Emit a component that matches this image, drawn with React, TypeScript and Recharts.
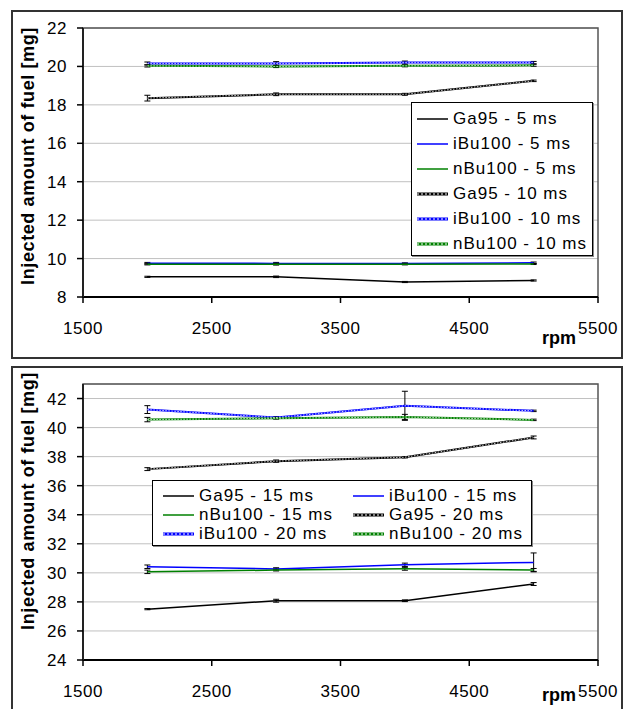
import { LineChart, Line, XAxis, YAxis, CartesianGrid, ErrorBar, Legend, ReferenceArea } from 'recharts'

const rpm = [2000, 3000, 4000, 5000]
const xTicks = [1500, 2500, 3500, 4500, 5500]

// upper panel: 5 ms and 10 ms injection
const ga95_5 = [9.05, 9.05, 8.78, 8.86]
const ibu_5 = [9.76, 9.75, 9.75, 9.78]
const nbu_5 = [9.7, 9.7, 9.7, 9.72]
const ga95_10 = [18.35, 18.55, 18.55, 19.25]
const ibu_10 = [20.15, 20.15, 20.2, 20.2]
const nbu_10 = [20.03, 20.0, 20.03, 20.06]

const ga95_5Err = [0.03, 0.04, 0.03, 0.03]
const ibu_5Err = [0.04, 0.05, 0.03, 0.04]
const nbu_5Err = [0.03, 0.04, 0.03, 0.03]
const ga95_10Err = [0.15, 0.07, 0.05, 0.04]
const ibu_10Err = [0.08, 0.1, 0.08, 0.06]
const nbu_10Err = [0.06, 0.06, 0.05, 0.05]

const topNames = ['Ga95 - 5 ms', 'iBu100 - 5 ms', 'nBu100 - 5 ms', 'Ga95 - 10 ms', 'iBu100 - 10 ms', 'nBu100 - 10 ms']
const topTicks = [8, 10, 12, 14, 16, 18, 20, 22]

// lower panel: 15 ms and 20 ms injection
const ga95_15 = [27.5, 28.08, 28.08, 29.23]
const ibu_15 = [30.42, 30.27, 30.55, 30.72]
const nbu_15 = [30.07, 30.19, 30.28, 30.2]
const ga95_20 = [37.14, 37.69, 37.96, 39.32]
const ibu_20 = [41.24, 40.69, 41.5, 41.15]
const nbu_20 = [40.55, 40.64, 40.73, 40.53]

const ga95_15Err = [0.04, 0.1, 0.06, 0.1]
const ibu_15Err = [0.12, 0.08, 0.12, 0.65]
const nbu_15Err = [0.12, 0.06, 0.1, 0.1]
const ga95_20Err = [0.1, 0.08, 0.05, 0.1]
const ibu_20Err = [0.27, 0.06, 1.0, 0.05]
const nbu_20Err = [0.15, 0.06, 0.18, 0.05]

const bottomNames = ['Ga95 - 15 ms', 'iBu100 - 15 ms', 'nBu100 - 15 ms', 'Ga95 - 20 ms', 'iBu100 - 20 ms', 'nBu100 - 20 ms']
const bottomTicks = [24, 26, 28, 30, 32, 34, 36, 38, 40, 42]

const colors = ['#000000', '#0000ff', '#008000']
const FONT = '"Liberation Sans", Arial, sans-serif'

function buildRows(values: number[][], errs: number[][]) {
  return rpm.map((r, i) => {
    const row: Record<string, number> = { rpm: r }
    values.forEach((v, s) => {
      row['s' + s] = v[i]
      row['e' + s] = errs[s][i]
    })
    return row
  })
}

const topData = buildRows(
  [ga95_5, ibu_5, nbu_5, ga95_10, ibu_10, nbu_10],
  [ga95_5Err, ibu_5Err, nbu_5Err, ga95_10Err, ibu_10Err, nbu_10Err],
)
const bottomData = buildRows(
  [ga95_15, ibu_15, nbu_15, ga95_20, ibu_20, nbu_20],
  [ga95_15Err, ibu_15Err, nbu_15Err, ga95_20Err, ibu_20Err, nbu_20Err],
)

function Swatch({ i }: { i: number }) {
  const c = colors[i % 3]
  const patterned = i >= 3
  return (
    <svg width={31} height={10} style={{ flex: 'none', marginRight: 5 }}>
      <line x1={0} y1={5} x2={31} y2={5} stroke={c} strokeWidth={patterned ? 3 : 1.5} />
      {patterned && <line x1={0} y1={5} x2={31} y2={5} stroke="#fff" strokeWidth={1} strokeDasharray="2 2" />}
    </svg>
  )
}

function LegendBox({ names, cols, colW, rowH, padTop, padLeft }: any) {
  return (
    <div
      style={{
        width: '100%', height: '100%', boxSizing: 'border-box', background: '#fff',
        border: '1px solid #000', boxShadow: '1px 1px 0 #888',
        paddingTop: padTop, paddingLeft: padLeft,
        display: 'grid', gridTemplateColumns: `repeat(${cols}, ${colW}px)`, gridAutoRows: rowH,
        fontFamily: FONT, fontSize: 17, letterSpacing: 1, color: '#000',
      }}
    >
      {names.map((n: string, i: number) => (
        <div key={n} style={{ display: 'flex', alignItems: 'center', whiteSpace: 'nowrap' }}>
          <Swatch i={i} />
          <span>{n}</span>
        </div>
      ))}
    </div>
  )
}

function Panel({ data, names, yDomain, yTicks, height, margin, legend, labelDy, rpmDy }: any) {
  const tickStyle = { fontSize: 17, fill: '#000', fontFamily: FONT, letterSpacing: 0.5 }
  return (
    <LineChart width={627} height={height} data={data} margin={margin}>
      <CartesianGrid vertical={false} stroke="#c0c0c0" strokeWidth={1} />
      <ReferenceArea x1={1500} x2={5500} y1={yDomain[0]} y2={yDomain[1]} fill="none" stroke="#555" strokeWidth={1.5} ifOverflow="visible" />
      <XAxis
        type="number" dataKey="rpm" domain={[1500, 5500]} ticks={xTicks} interval={0} height={1}
        axisLine={{ stroke: '#000', strokeWidth: 2 }} tickLine={{ stroke: '#000', strokeWidth: 1.5 }}
        tickSize={6} tickMargin={19} tick={tickStyle}
        label={{ value: 'rpm', position: 'center', dx: 218.5, dy: rpmDy, fontSize: 18, fontWeight: 'bold', fill: '#000', fontFamily: FONT }}
      />
      <YAxis
        type="number" domain={yDomain} ticks={yTicks} interval={0} width={1}
        axisLine={{ stroke: '#222', strokeWidth: 2 }} tickLine={{ stroke: '#000', strokeWidth: 1.5 }}
        tickSize={6} tickMargin={10} tick={tickStyle}
        label={{ value: 'Injected amount of fuel [mg]', angle: -90, position: 'center', dx: -55, dy: labelDy, fontSize: 18, fontWeight: 'bold', fill: '#000', fontFamily: FONT, letterSpacing: 0.6 }}
      />
      <Legend
        align="center" verticalAlign="middle"
        wrapperStyle={{ left: legend.left, top: legend.top, width: legend.width, height: legend.height }}
        content={() => <LegendBox names={names} {...legend.box} />}
      />
      {names.map((n: string, i: number) => (
        <Line
          key={'s' + i} type="linear" dataKey={'s' + i} name={n} stroke={colors[i % 3]}
          strokeWidth={i >= 3 ? 2 : 1.5} dot={false} isAnimationActive={false}
        >
          <ErrorBar dataKey={'e' + i} width={3} stroke="#000" strokeWidth={1} direction="y" isAnimationActive={false} />
        </Line>
      ))}
      {names.map((n: string, i: number) =>
        i >= 3 ? (
          <Line
            key={'o' + i} type="linear" dataKey={'s' + i} stroke="#fff" strokeWidth={0.8} strokeDasharray="1.5 1.5"
            dot={false} legendType="none" isAnimationActive={false}
          />
        ) : null,
      )}
    </LineChart>
  )
}

export default function App() {
  return (
    <div style={{ position: 'absolute', left: 0, top: 0, width: 627, height: 709, overflow: 'hidden', background: '#fff', fontFamily: FONT }}>
      <div style={{ position: 'absolute', left: 11, top: 10, width: 612, height: 349, border: '2px solid #333', boxSizing: 'border-box' }} />
      <div style={{ position: 'absolute', left: 11, top: 366, width: 612, height: 360, border: '2px solid #333', boxSizing: 'border-box' }} />
      <div style={{ position: 'absolute', left: 0, top: 0 }}>
        <Panel
          data={topData} names={topNames} yDomain={[8, 22]} yTicks={topTicks} height={362}
          margin={{ top: 28, right: 29, bottom: 64, left: 82 }}
          legend={{ left: 411, top: 102, width: 182, height: 154, box: { cols: 1, colW: 176, rowH: 25, padTop: 3, padLeft: 5 } }}
          labelDy={-6.5} rpmDy={40.5}
        />
      </div>
      <div style={{ position: 'absolute', left: 0, top: 362 }}>
        <Panel
          data={bottomData} names={bottomNames} yDomain={[24, 43]} yTicks={bottomTicks} height={347}
          margin={{ top: 22, right: 29, bottom: 48, left: 82 }}
          legend={{ left: 152, top: 118, width: 380, height: 66, box: { cols: 2, colW: 190, rowH: 19, padTop: 5, padLeft: 10 } }}
          labelDy={-21} rpmDy={34}
        />
      </div>
    </div>
  )
}
